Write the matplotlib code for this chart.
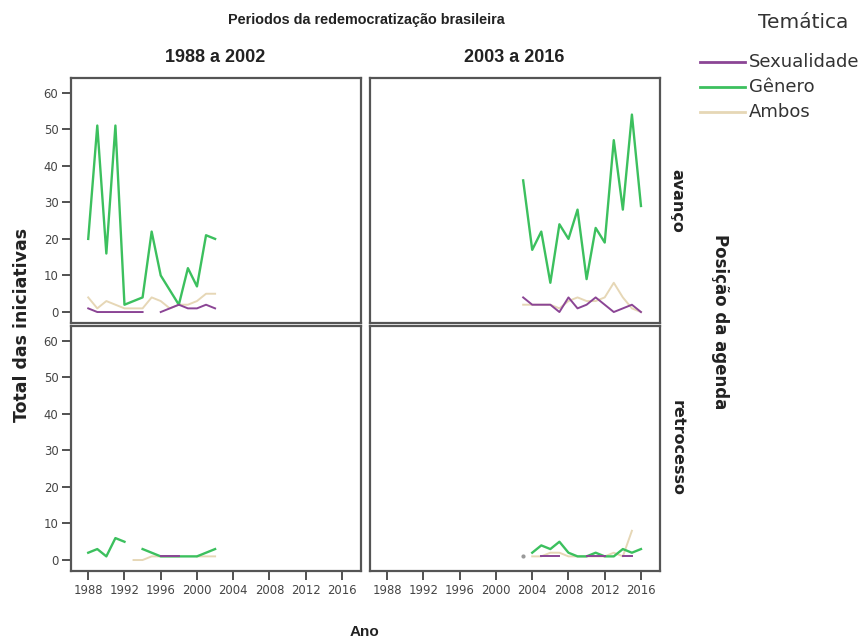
import numpy as np
import matplotlib.pyplot as plt

plt.rcParams['font.family'] = ['Liberation Sans', 'DejaVu Sans']

nan = np.nan

# anos de cada período
anos_1 = [1988, 1989, 1990, 1991, 1992, 1993, 1994, 1995, 1996, 1997, 1998, 1999, 2000, 2001, 2002]
anos_2 = [2003, 2004, 2005, 2006, 2007, 2008, 2009, 2010, 2011, 2012, 2013, 2014, 2015, 2016]

# avanço, 1988 a 2002
sex_av_1 = [1, 0, 0, 0, 0, 0, 0, nan, 0, 1, 2, 1, 1, 2, 1]
gen_av_1 = [20, 51, 16, 51, 2, 3, 4, 22, 10, 6, 2, 12, 7, 21, 20]
amb_av_1 = [4, 1, 3, 2, 1, 1, 1, 4, 3, 1, 2, 2, 3, 5, 5]

# avanço, 2003 a 2016
sex_av_2 = [4, 2, 2, 2, 0, 4, 1, 2, 4, 2, 0, 1, 2, 0]
gen_av_2 = [36, 17, 22, 8, 24, 20, 28, 9, 23, 19, 47, 28, 54, 29]
amb_av_2 = [2, 2, 2, 2, 1, 3, 4, 3, 3, 4, 8, 4, 1, 0]

# retrocesso, 1988 a 2002
sex_re_1 = [nan, nan, nan, nan, nan, nan, nan, nan, 1, 1, 1, nan, nan, nan, nan]
gen_re_1 = [2, 3, 1, 6, 5, nan, 3, 2, 1, 1, 1, 1, 1, 2, 3]
amb_re_1 = [nan, nan, nan, nan, nan, 0, 0, 1, 1, 1, 1, nan, 1, 1, 1]

# retrocesso, 2003 a 2016
sex_re_2 = [1, nan, 1, 1, 1, nan, nan, 1, 1, 1, nan, 1, 1, nan]
gen_re_2 = [nan, 2, 4, 3, 5, 2, 1, 1, 2, 1, 1, 3, 2, 3]
amb_re_2 = [nan, 1, 1, 2, 2, 1, 1, 1, 1, 1, 2, 1, 8, nan]

tematicas = ['Sexualidade', 'Gênero', 'Ambos']
cores = ['#8b4595', '#3cc05e', '#e6d7b6']
colunas = ['1988 a 2002', '2003 a 2016']
linhas = ['avanço', 'retrocesso']

paineis = {
    (0, 0): (anos_1, [sex_av_1, gen_av_1, amb_av_1]),
    (0, 1): (anos_2, [sex_av_2, gen_av_2, amb_av_2]),
    (1, 0): (anos_1, [sex_re_1, gen_re_1, amb_re_1]),
    (1, 1): (anos_2, [sex_re_2, gen_re_2, amb_re_2]),
}

W, H = 868, 644
fig = plt.figure(figsize=(W / 100, H / 100), dpi=100)

def caixa(x0, y0, x1, y1):
    return [x0 / W, 1 - y1 / H, (x1 - x0) / W, (y1 - y0) / H]

lefts = [71, 370]
tops = [78, 326]
pw, ph = 290, 245
escuro = '#222222'

for i in range(2):
    for j in range(2):
        ax = fig.add_axes(caixa(lefts[j], tops[i], lefts[j] + pw, tops[i] + ph))
        anos, series = paineis[(i, j)]
        for k in [2, 1, 0]:
            y = np.array(series[k], dtype=float)
            ax.plot(anos, y, color=cores[k], lw=1.7 if k == 1 else 1.4,
                    solid_joinstyle='round')
            # pontos sem vizinhos
            for t in range(len(y)):
                if not np.isnan(y[t]):
                    prev_nan = t == 0 or np.isnan(y[t - 1])
                    next_nan = t == len(y) - 1 or np.isnan(y[t + 1])
                    if prev_nan and next_nan:
                        ax.plot(anos[t], y[t], 'o', ms=2, color='#999999')
        ax.set_xlim(1986.1, 2018.1)
        ax.set_ylim(-3, 64)
        ax.set_xticks([1988, 1992, 1996, 2000, 2004, 2008, 2012, 2016])
        ax.set_yticks([0, 10, 20, 30, 40, 50, 60])
        for s in ax.spines.values():
            s.set_color('#555555')
            s.set_linewidth(1.6)
        ax.tick_params(length=6.5, width=1.2, color='#333333', labelsize=8.4,
                       labelcolor='#444444', pad=2.5)
        for lab in ax.get_xticklabels() + ax.get_yticklabels():
            lab.set_family('DejaVu Sans')
        if j == 1:
            ax.tick_params(axis='y', left=False, labelleft=False)
        if i == 0:
            ax.tick_params(axis='x', bottom=False, labelbottom=False)

fig.text(366 / W, 1 - 20 / H, 'Periodos da redemocratização brasileira',
         ha='center', va='center', fontsize=10.4, fontweight='bold', color=escuro)
for j, c in enumerate(colunas):
    fig.text((lefts[j] + pw / 2 - 1) / W, 1 - 58 / H, c, ha='center', va='center',
             fontsize=13, fontweight='bold', color=escuro)
for i, r in enumerate(linhas):
    fig.text(677 / W, 1 - (tops[i] + ph / 2) / H, r, ha='center', va='center',
             rotation=-90, fontsize=11.5, fontweight='bold', color=escuro,
             family='DejaVu Sans')
fig.text(720 / W, 1 - 322 / H, 'Posição da agenda', ha='center', va='center',
         rotation=-90, fontsize=12, fontweight='bold', color=escuro,
         family='DejaVu Sans')
fig.text(22 / W, 1 - 325 / H, 'Total das iniciativas', ha='center', va='center',
         rotation=90, fontsize=12.5, fontweight='bold', color=escuro,
         family='DejaVu Sans')
fig.text(365 / W, 1 - 632 / H, 'Ano', ha='center', va='center',
         fontsize=11, fontweight='bold', color=escuro)

# legenda
fig.text(803 / W, 1 - 23 / H, 'Temática', ha='center', va='center',
         fontsize=14.5, color='#333333', family='DejaVu Sans')
for k, nome in enumerate(tematicas):
    yl = 1 - (62 + k * 25) / H
    fig.add_artist(plt.Line2D([700 / W, 745 / W], [yl, yl], color=cores[k], lw=2))
    fig.text(749 / W, yl, nome, ha='left', va='center', fontsize=13,
             color='#333333', family='DejaVu Sans')

fig.savefig('out.png', dpi=100)
